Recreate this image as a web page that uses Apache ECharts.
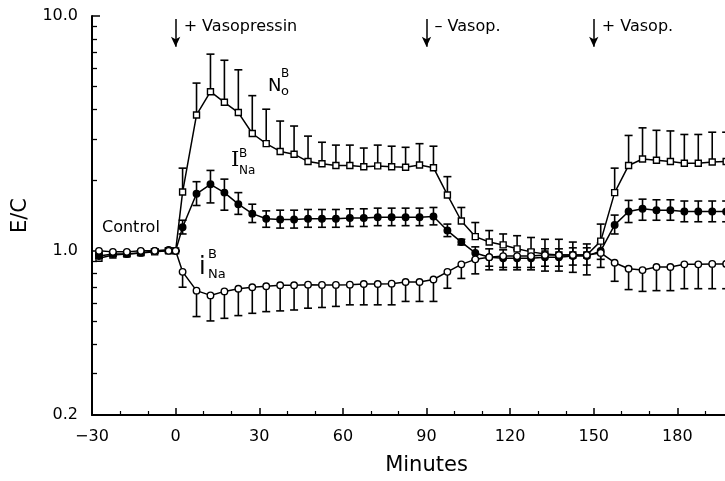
<!DOCTYPE html>
<html>
<head>
<meta charset="utf-8">
<script src="https://cdn.jsdelivr.net/npm/echarts@6/dist/echarts.min.js"></script>
<style>
  html, body { margin: 0; padding: 0; background: #fff; }
  #chart { width: 725px; height: 481px; }
</style>
</head>
<body>
<div id="chart"></div>
<script>
// sampling times (min) – control, then every 5 min from 2.5
const minutes = [-27.5, -22.5, -17.5, -12.5, -7.5, -2.5, 0,
  2.5, 7.5, 12.5, 17.5, 22.5, 27.5, 32.5, 37.5, 42.5, 47.5,
  52.5, 57.5, 62.5, 67.5, 72.5, 77.5, 82.5, 87.5, 92.5, 97.5,
  102.5, 107.5, 112.5, 117.5, 122.5, 127.5, 132.5, 137.5, 142.5, 147.5,
  152.5, 157.5, 162.5, 167.5, 172.5, 177.5, 182.5, 187.5, 192.5, 197.5]

// N_o^B (open squares), upper error only
const noMean = [0.93, 0.96, 0.97, 0.98, 0.99, 1.0, 1.0,
  1.78, 3.79, 4.76, 4.29, 3.88, 3.16, 2.86, 2.65, 2.58, 2.40,
  2.35, 2.31, 2.31, 2.28, 2.30, 2.28, 2.27, 2.32, 2.26, 1.73,
  1.34, 1.15, 1.09, 1.06, 1.02, 0.99, 0.97, 0.96, 0.96, 0.96,
  1.10, 1.77, 2.31, 2.46, 2.43, 2.40, 2.36, 2.36, 2.39, 2.40]
const noHi = [0.96, 0.98, 0.99, 1.0, 1.01, 1.02, 1.0,
  2.25, 5.18, 6.88, 6.48, 5.90, 4.58, 4.01, 3.57, 3.40, 3.08,
  2.90, 2.82, 2.82, 2.74, 2.82, 2.79, 2.76, 2.86, 2.79, 2.07,
  1.53, 1.32, 1.22, 1.18, 1.16, 1.14, 1.12, 1.12, 1.09, 1.07,
  1.30, 2.25, 3.10, 3.34, 3.26, 3.24, 3.13, 3.13, 3.20, 3.20]

// I_Na^B (filled circles), both errors
const inaMean = [0.95, 0.97, 0.97, 0.98, 1.0, 1.01, 1.0,
  1.26, 1.75, 1.92, 1.77, 1.58, 1.44, 1.37, 1.36, 1.36, 1.37,
  1.37, 1.37, 1.38, 1.38, 1.39, 1.39, 1.39, 1.39, 1.40, 1.22,
  1.09, 0.98, 0.94, 0.93, 0.93, 0.93, 0.94, 0.94, 0.95, 0.95,
  1.00, 1.29, 1.47, 1.51, 1.49, 1.49, 1.47, 1.47, 1.47, 1.47]
const inaHi = [0.97, 0.99, 0.99, 1.0, 1.02, 1.03, 1.0,
  1.35, 1.97, 2.20, 2.02, 1.77, 1.58, 1.48, 1.49, 1.49, 1.50,
  1.50, 1.50, 1.51, 1.51, 1.52, 1.52, 1.52, 1.52, 1.53, 1.30,
  1.12, 1.04, 1.02, 1.01, 1.01, 1.01, 1.02, 1.02, 1.03, 1.03,
  1.08, 1.42, 1.64, 1.66, 1.65, 1.65, 1.63, 1.63, 1.63, 1.63]
const inaLo = [0.93, 0.95, 0.95, 0.96, 0.98, 0.99, 1.0,
  1.18, 1.56, 1.60, 1.49, 1.43, 1.32, 1.26, 1.25, 1.25, 1.26,
  1.26, 1.26, 1.27, 1.27, 1.28, 1.28, 1.28, 1.28, 1.29, 1.15,
  1.06, 0.92, 0.86, 0.85, 0.85, 0.85, 0.86, 0.86, 0.87, 0.87,
  0.92, 1.18, 1.32, 1.35, 1.35, 1.35, 1.33, 1.33, 1.33, 1.33]

// i_Na^B (open circles), lower error only
const iMean = [1.0, 0.99, 0.99, 1.0, 1.0, 1.0, 1.0,
  0.814, 0.677, 0.646, 0.672, 0.69, 0.70, 0.707, 0.714, 0.714, 0.718,
  0.716, 0.716, 0.718, 0.723, 0.723, 0.725, 0.737, 0.737, 0.755, 0.814,
  0.876, 0.92, 0.94, 0.95, 0.95, 0.95, 0.96, 0.96, 0.96, 0.96,
  0.98, 0.89, 0.839, 0.828, 0.853, 0.853, 0.876, 0.876, 0.88, 0.88]
const iLo = [0.98, 0.97, 0.97, 0.98, 0.98, 0.98, 1.0,
  0.70, 0.525, 0.503, 0.516, 0.53, 0.542, 0.551, 0.555, 0.56, 0.57,
  0.574, 0.58, 0.589, 0.589, 0.589, 0.589, 0.609, 0.609, 0.609, 0.693,
  0.763, 0.798, 0.83, 0.83, 0.83, 0.83, 0.82, 0.82, 0.81, 0.79,
  0.85, 0.742, 0.684, 0.672, 0.677, 0.677, 0.69, 0.69, 0.69, 0.69]

const yMajor = [0.2, 1, 10]
const yMinor = [0.3, 0.4, 0.5, 0.6, 0.7, 0.8, 0.9, 2, 3, 4, 5, 6, 7, 8, 9]
const events = [0, 90, 150]
const eventLabels = ['+ Vasopressin', '\u2013 Vasop.', '+ Vasop.']

const FONT = 'DejaVu Sans'
const chart = echarts.init(document.getElementById('chart'))

function zip(a, b) { return minutes.map((t, i) => [t, a[i], b[i]]) }

function errItem(capLo, capHi) {
  return function (params, api) {
    const x = api.value(0)
    const lo = api.coord([x, api.value(1)])
    const hi = api.coord([x, api.value(2)])
    const w = 4
    const st = { stroke: '#000', lineWidth: 1.6 }
    const kids = [{ type: 'line', shape: { x1: lo[0], y1: lo[1], x2: hi[0], y2: hi[1] }, style: st }]
    if (capHi) kids.push({ type: 'line', shape: { x1: hi[0] - w, y1: hi[1], x2: hi[0] + w, y2: hi[1] }, style: st })
    if (capLo) kids.push({ type: 'line', shape: { x1: lo[0] - w, y1: lo[1], x2: lo[0] + w, y2: lo[1] }, style: st })
    return { type: 'group', children: kids }
  }
}

function errSeries(data, capLo, capHi) {
  return {
    type: 'custom', renderItem: errItem(capLo, capHi), data: data,
    encode: { x: 0, y: [1, 2] }, clip: true, z: 2, silent: true
  }
}

function lineSeries(name, vals, symbol, fill, size) {
  return {
    name: name, type: 'line', data: minutes.map((t, i) => [t, vals[i]]),
    symbol: symbol, symbolSize: size, showSymbol: true, z: 5,
    lineStyle: { color: '#000', width: 1.5 },
    itemStyle: { color: fill, borderColor: '#000', borderWidth: 1.4 }
  }
}

const noLine = lineSeries('No', noMean, 'rect', '#fff', 6)
noLine.markLine = {
  silent: true, symbol: ['none', 'arrow'], symbolSize: [7, 10],
  lineStyle: { color: '#000', width: 1.5, type: 'solid' },
  label: { show: false },
  data: events.map(t => [{ coord: [t, 9.7] }, { coord: [t, 7.4] }])
}

const option = {
  animation: false,
  grid: { left: 92, right: -36, top: 16, bottom: 66, outerBoundsMode: 'none', containLabel: false },
  xAxis: {
    type: 'value', min: -30, max: 210, interval: 30,
    name: 'Minutes', nameLocation: 'middle', nameGap: 40,
    nameTextStyle: { fontFamily: FONT, fontSize: 21, color: '#000' },
    axisLine: { onZero: false, lineStyle: { color: '#000', width: 2 } },
    axisTick: { inside: true, length: 7, lineStyle: { color: '#000', width: 1.5 } },
    minorTick: { show: true, splitNumber: 3, length: 4, lineStyle: { color: '#000', width: 1.2 } },
    axisLabel: {
      margin: 14, fontFamily: FONT, fontSize: 16, color: '#000',
      formatter: v => (v < 0 ? '\u2212' + (-v) : '' + v)
    },
    splitLine: { show: false }
  },
  yAxis: [{
    type: 'log', min: 0.2, max: 10, position: 'left',
    name: 'E/C', nameLocation: 'middle', nameGap: 58,
    nameTextStyle: { fontFamily: FONT, fontSize: 21, color: '#000' },
    axisLine: { onZero: false, lineStyle: { color: '#000', width: 2 } },
    axisTick: { inside: true, length: 8, customValues: yMajor, lineStyle: { color: '#000', width: 1.5 } },
    axisLabel: { customValues: yMajor, margin: 14, fontFamily: FONT, fontSize: 16, color: '#000', formatter: v => Number(v).toFixed(1) },
    splitLine: { show: false }
  }, {
    type: 'log', min: 0.2, max: 10, position: 'left', offset: 0,
    axisLine: { show: false, onZero: false },
    axisTick: { inside: true, length: 5, customValues: yMinor, lineStyle: { color: '#000', width: 1.3 } },
    axisLabel: { show: false },
    splitLine: { show: false }
  }],
  series: [
    errSeries(zip(noMean, noHi), false, true),
    errSeries(zip(inaLo, inaHi), true, true),
    errSeries(zip(iLo, iMean), true, false),
    noLine,
    lineSeries('INa', inaMean, 'circle', '#000', 6.5),
    lineSeries('iNa', iMean, 'circle', '#fff', 6.5)
  ]
}
chart.setOption(option)

// text annotations
const txt = (x, y, s, size, fam) => ({
  type: 'text', x: x, y: y, z: 10,
  style: { text: s, font: size + 'px "' + (fam || FONT) + '"', fill: '#000', align: 'left', verticalAlign: 'middle' }
})
const gfx = events.map((t, i) => {
  const p = chart.convertToPixel({ gridIndex: 0 }, [t, 10])
  return txt(p[0] + 8, 27, eventLabels[i], 16)
})
gfx.push(txt(102, 228, 'Control', 16))
gfx.push(txt(268, 86, 'N', 18), txt(281, 74, 'B', 12), txt(281, 92, 'o', 13))
gfx.push(txt(231, 161, 'I', 21, 'DejaVu Serif'), txt(239, 154, 'B', 12), txt(239, 171, 'Na', 12))
gfx.push(txt(199, 268, 'i', 24), txt(208, 255, 'B', 13), txt(208, 275, 'Na', 13))
chart.setOption({ graphic: gfx })
</script>
</body>
</html>
